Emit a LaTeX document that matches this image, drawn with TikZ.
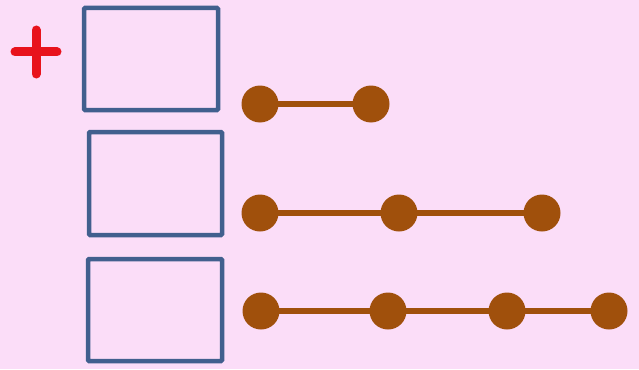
\documentclass[tikz,border=0pt]{standalone}
\begin{document}
\begin{tikzpicture}[x=1pt,y=-1pt,
  box/.style={draw=boxblue,line width=4.5pt,rounded corners=1pt,inner sep=0pt,minimum width=#1},
  dot/.style={circle,fill=dotbrown,inner sep=0pt,minimum size=37pt},
  link/.style={draw=dotbrown,line width=5.5pt}]
\definecolor{bg}{HTML}{FBDDF8}
\definecolor{boxblue}{HTML}{415F8E}
\definecolor{dotbrown}{HTML}{A0500C}
\definecolor{plusred}{HTML}{E8131C}
\fill[bg] (0,0) rectangle (639,369);
\useasboundingbox (0,0) rectangle (639,369);
% plus sign
\draw[plusred,line width=9pt,line cap=round] (15,52) -- (57,52) (36,30) -- (36,74);
% boxes
\node[box=134pt,minimum height=102pt] (b1) at (151,59) {};
\node[box=133pt,minimum height=103pt] (b2) at (155.5,183.5) {};
\node[box=134pt,minimum height=102pt] (b3) at (155,310) {};
% row 1
\node[dot] (a1) at (260,104) {};
\node[dot] (a2) at (371,104) {};
\draw[link] (a1.center) -- (a2.center);
% row 2
\node[dot] (c1) at (260,213) {};
\node[dot] (c2) at (399,213) {};
\node[dot] (c3) at (542,213) {};
\draw[link] (c1.center) -- (c2.center) (c2.center) -- (c3.center);
% row 3
\node[dot] (d1) at (261,311) {};
\node[dot] (d2) at (388,311) {};
\node[dot] (d3) at (507,311) {};
\node[dot] (d4) at (609,311) {};
\draw[link] (d1.center) -- (d2.center) (d2.center) -- (d3.center) (d3.center) -- (d4.center);
\end{tikzpicture}
\end{document}
